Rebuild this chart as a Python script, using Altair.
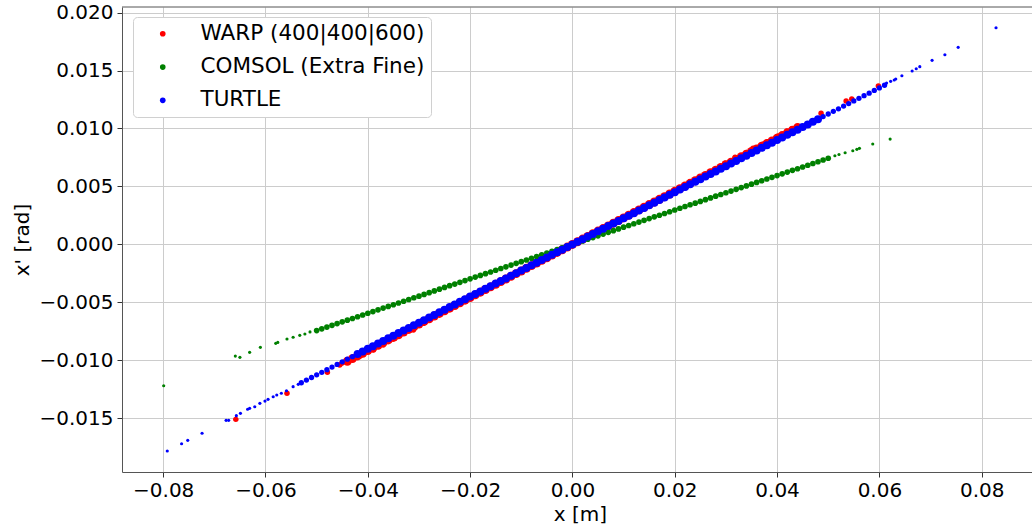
import altair as alt
import pandas as pd

SERIES = ["WARP (400|400|600)", "COMSOL (Extra Fine)", "TURTLE"]
COLORS = ["#ff0000", "#008000", "#0000ff"]
X_TICKS = [-0.08, -0.06, -0.04, -0.02, 0.0, 0.02, 0.04, 0.06, 0.08]
Y_TICKS = [-0.015, -0.010, -0.005, 0.0, 0.005, 0.010, 0.015, 0.020]

# ---- WARP (red): dense band + scattered edge points -------------------------
warp_band = [
    (-0.044, -0.01008), (-0.043, -0.00985), (-0.042, -0.00962), (-0.041, -0.00939),
    (-0.040, -0.00916), (-0.039, -0.00893), (-0.038, -0.00870), (-0.037, -0.00847),
    (-0.036, -0.00824), (-0.035, -0.00802), (-0.034, -0.00779), (-0.033, -0.00756),
    (-0.032, -0.00733), (-0.031, -0.00710), (-0.030, -0.00687), (-0.029, -0.00664),
    (-0.028, -0.00641), (-0.027, -0.00618), (-0.026, -0.00595), (-0.025, -0.00573),
    (-0.024, -0.00550), (-0.023, -0.00527), (-0.022, -0.00504), (-0.021, -0.00481),
    (-0.020, -0.00458), (-0.019, -0.00435), (-0.018, -0.00412), (-0.017, -0.00389),
    (-0.016, -0.00366), (-0.015, -0.00344), (-0.014, -0.00321), (-0.013, -0.00298),
    (-0.012, -0.00275), (-0.011, -0.00252), (-0.010, -0.00229), (-0.009, -0.00206),
    (-0.008, -0.00183), (-0.007, -0.00160), (-0.006, -0.00137), (-0.005, -0.00115),
    (-0.004, -0.00092), (-0.003, -0.00069), (-0.002, -0.00046), (-0.001, -0.00023),
    (0.000, 0.00000), (0.001, 0.00023), (0.002, 0.00046), (0.003, 0.00069),
    (0.004, 0.00092), (0.005, 0.00115), (0.006, 0.00137), (0.007, 0.00160),
    (0.008, 0.00183), (0.009, 0.00206), (0.010, 0.00229), (0.011, 0.00252),
    (0.012, 0.00275), (0.013, 0.00298), (0.014, 0.00321), (0.015, 0.00344),
    (0.016, 0.00366), (0.017, 0.00389), (0.018, 0.00412), (0.019, 0.00435),
    (0.020, 0.00458), (0.021, 0.00481), (0.022, 0.00504), (0.023, 0.00527),
    (0.024, 0.00550), (0.025, 0.00573), (0.026, 0.00595), (0.027, 0.00618),
    (0.028, 0.00641), (0.029, 0.00664), (0.030, 0.00687), (0.031, 0.00710),
    (0.032, 0.00733), (0.033, 0.00756), (0.034, 0.00779), (0.035, 0.00802),
    (0.036, 0.00824), (0.037, 0.00847), (0.038, 0.00870), (0.039, 0.00893),
    (0.040, 0.00916), (0.041, 0.00939), (0.042, 0.00962), (0.043, 0.00985),
    (0.044, 0.01008),
]
warp_tail = [
    (0.0598, 0.01366), (0.0546, 0.01254), (0.0535, 0.01237), (0.0486, 0.01131),
    (0.0429, 0.00995), (0.0419, 0.00978), (0.0402, 0.00935), (0.0383, 0.00886),
    (0.0373, 0.00866), (0.0353, 0.00829), (0.0341, 0.00794), (0.0318, 0.00751),
    (0.0298, 0.00700),
    (-0.0658, -0.01509), (-0.0558, -0.01284), (-0.0479, -0.01103), (-0.0455, -0.01040),
    (-0.0451, -0.01026), (-0.0415, -0.00963), (-0.0393, -0.00905), (-0.0389, -0.00911),
    (-0.0376, -0.00853), (-0.0370, -0.00868), (-0.0357, -0.00825), (-0.0347, -0.00810),
    (-0.0311, -0.00738), (-0.0292, -0.00681),
]

# ---- COMSOL (green) ---------------------------------------------------------
comsol_band = [
    (-0.050, -0.00743), (-0.049, -0.00728), (-0.048, -0.00713), (-0.047, -0.00698),
    (-0.046, -0.00683), (-0.045, -0.00668), (-0.044, -0.00653), (-0.043, -0.00639),
    (-0.042, -0.00624), (-0.041, -0.00609), (-0.040, -0.00594), (-0.039, -0.00579),
    (-0.038, -0.00564), (-0.037, -0.00549), (-0.036, -0.00535), (-0.035, -0.00520),
    (-0.034, -0.00505), (-0.033, -0.00490), (-0.032, -0.00475), (-0.031, -0.00460),
    (-0.030, -0.00446), (-0.029, -0.00431), (-0.028, -0.00416), (-0.027, -0.00401),
    (-0.026, -0.00386), (-0.025, -0.00371), (-0.024, -0.00356), (-0.023, -0.00342),
    (-0.022, -0.00327), (-0.021, -0.00312), (-0.020, -0.00297), (-0.019, -0.00282),
    (-0.018, -0.00267), (-0.017, -0.00252), (-0.016, -0.00238), (-0.015, -0.00223),
    (-0.014, -0.00208), (-0.013, -0.00193), (-0.012, -0.00178), (-0.011, -0.00163),
    (-0.010, -0.00149), (-0.009, -0.00134), (-0.008, -0.00119), (-0.007, -0.00104),
    (-0.006, -0.00089), (-0.005, -0.00074), (-0.004, -0.00059), (-0.003, -0.00045),
    (-0.002, -0.00030), (-0.001, -0.00015), (0.000, 0.00000), (0.001, 0.00015),
    (0.002, 0.00030), (0.003, 0.00045), (0.004, 0.00059), (0.005, 0.00074),
    (0.006, 0.00089), (0.007, 0.00104), (0.008, 0.00119), (0.009, 0.00134),
    (0.010, 0.00149), (0.011, 0.00163), (0.012, 0.00178), (0.013, 0.00193),
    (0.014, 0.00208), (0.015, 0.00223), (0.016, 0.00238), (0.017, 0.00252),
    (0.018, 0.00267), (0.019, 0.00282), (0.020, 0.00297), (0.021, 0.00312),
    (0.022, 0.00327), (0.023, 0.00342), (0.024, 0.00356), (0.025, 0.00371),
    (0.026, 0.00386), (0.027, 0.00401), (0.028, 0.00416), (0.029, 0.00431),
    (0.030, 0.00446), (0.031, 0.00460), (0.032, 0.00475), (0.033, 0.00490),
    (0.034, 0.00505), (0.035, 0.00520), (0.036, 0.00535), (0.037, 0.00549),
    (0.038, 0.00564), (0.039, 0.00579), (0.040, 0.00594), (0.041, 0.00609),
    (0.042, 0.00624), (0.043, 0.00639), (0.044, 0.00653), (0.045, 0.00668),
    (0.046, 0.00683), (0.047, 0.00698), (0.048, 0.00713), (0.049, 0.00728),
    (0.050, 0.00743),
]
comsol_tail = [
    (-0.0799, -0.01219), (-0.0659, -0.00963), (-0.0650, -0.00974), (-0.0631, -0.00931),
    (-0.0610, -0.00888), (-0.0580, -0.00853), (-0.0576, -0.00845), (-0.0558, -0.00816),
    (-0.0546, -0.00801), (-0.0533, -0.00784), (-0.0523, -0.00773), (-0.0513, -0.00755),
    (0.0513, 0.00765), (0.0521, 0.00776), (0.0533, 0.00791), (0.0548, 0.00808),
    (0.0556, 0.00820), (0.0561, 0.00829), (0.0587, 0.00866), (0.0621, 0.00909),
]

# ---- TURTLE (blue) ----------------------------------------------------------
turtle_band = [
    (-0.042, -0.00945), (-0.041, -0.00923), (-0.040, -0.00900), (-0.039, -0.00878),
    (-0.038, -0.00855), (-0.037, -0.00833), (-0.036, -0.00810), (-0.035, -0.00788),
    (-0.034, -0.00765), (-0.033, -0.00743), (-0.032, -0.00720), (-0.031, -0.00698),
    (-0.030, -0.00675), (-0.029, -0.00653), (-0.028, -0.00630), (-0.027, -0.00608),
    (-0.026, -0.00585), (-0.025, -0.00563), (-0.024, -0.00540), (-0.023, -0.00518),
    (-0.022, -0.00495), (-0.021, -0.00473), (-0.020, -0.00450), (-0.019, -0.00428),
    (-0.018, -0.00405), (-0.017, -0.00383), (-0.016, -0.00360), (-0.015, -0.00338),
    (-0.014, -0.00315), (-0.013, -0.00293), (-0.012, -0.00270), (-0.011, -0.00248),
    (-0.010, -0.00225), (-0.009, -0.00203), (-0.008, -0.00180), (-0.007, -0.00158),
    (-0.006, -0.00135), (-0.005, -0.00113), (-0.004, -0.00090), (-0.003, -0.00068),
    (-0.002, -0.00045), (-0.001, -0.00023), (0.000, 0.00000), (0.001, 0.00023),
    (0.002, 0.00045), (0.003, 0.00068), (0.004, 0.00090), (0.005, 0.00113),
    (0.006, 0.00135), (0.007, 0.00158), (0.008, 0.00180), (0.009, 0.00203),
    (0.010, 0.00225), (0.011, 0.00248), (0.012, 0.00270), (0.013, 0.00293),
    (0.014, 0.00315), (0.015, 0.00338), (0.016, 0.00360), (0.017, 0.00383),
    (0.018, 0.00405), (0.019, 0.00428), (0.020, 0.00450), (0.021, 0.00473),
    (0.022, 0.00495), (0.023, 0.00518), (0.024, 0.00540), (0.025, 0.00563),
    (0.026, 0.00585), (0.027, 0.00608), (0.028, 0.00630), (0.029, 0.00653),
    (0.030, 0.00675), (0.031, 0.00698), (0.032, 0.00720), (0.033, 0.00743),
    (0.034, 0.00765), (0.035, 0.00788), (0.036, 0.00810), (0.037, 0.00833),
    (0.038, 0.00855), (0.039, 0.00878), (0.040, 0.00900), (0.041, 0.00923),
    (0.042, 0.00945), (0.043, 0.00968), (0.044, 0.00990), (0.045, 0.01013),
    (0.046, 0.01035), (0.047, 0.01058), (0.048, 0.01080),
]
turtle_edge = [
    (-0.053, -0.01193), (-0.052, -0.01170), (-0.051, -0.01148), (-0.050, -0.01125),
    (-0.049, -0.01103), (-0.048, -0.01080), (-0.047, -0.01058), (-0.046, -0.01035),
    (-0.045, -0.01013), (-0.044, -0.00990), (-0.043, -0.00968),
    (0.049, 0.01103), (0.050, 0.01125), (0.051, 0.01148), (0.052, 0.01170),
    (0.053, 0.01193), (0.054, 0.01215), (0.055, 0.01238), (0.056, 0.01260),
    (0.057, 0.01283), (0.058, 0.01305), (0.059, 0.01328), (0.060, 0.01350),
    (0.061, 0.01373),
]
turtle_tail = [
    (-0.0792, -0.01782), (-0.0764, -0.01719), (-0.0752, -0.01690), (-0.0724, -0.01629),
    (-0.0677, -0.01517), (-0.0672, -0.01517), (-0.0657, -0.01477), (-0.0649, -0.01457),
    (-0.0635, -0.01422), (-0.0631, -0.01414), (-0.0621, -0.01400), (-0.0611, -0.01371),
    (-0.0601, -0.01351), (-0.0595, -0.01336), (-0.0585, -0.01314), (-0.0578, -0.01299),
    (-0.0569, -0.01284), (-0.0559, -0.01262), (-0.0546, -0.01227), (-0.0536, -0.01207),
    (0.0614, 0.01392), (0.0622, 0.01407), (0.0629, 0.01418), (0.0632, 0.01427),
    (0.0644, 0.01455), (0.0664, 0.01496), (0.0672, 0.01515), (0.0679, 0.01533),
    (0.0703, 0.01588), (0.0728, 0.01636), (0.0754, 0.01700), (0.0828, 0.01869),
]

FONT = "DejaVu Sans"
W, H = 910, 465

x_scale = alt.Scale(domain=[-0.08805, 0.08983], nice=False, zero=False)
y_scale = alt.Scale(domain=[-0.01963, 0.02048], nice=False, zero=False)

x_axis = alt.Axis(
    values=X_TICKS, format=".2f", title="x [m]", labelFont=FONT, titleFont=FONT,
    labelFontSize=20, titleFontSize=20, titleFontWeight="normal",
    labelColor="black", titleColor="black", tickColor="#333333", tickSize=5,
    domainColor="#555555", gridColor="#cccccc", gridWidth=1, labelPadding=3,
    labelFlush=False, labelOverlap=False, titleX=458, titleY=42,
    titleBaseline="middle", titleAlign="center",
)
y_axis = alt.Axis(
    values=Y_TICKS, format=".3f", title="x' [rad]", labelFont=FONT, titleFont=FONT,
    labelFontSize=20, titleFontSize=20, titleFontWeight="normal",
    labelColor="black", titleColor="black", tickColor="#333333", tickSize=5,
    domainColor="#555555", gridColor="#cccccc", gridWidth=1, labelPadding=4,
    labelFlush=False, labelOverlap=False, titleAngle=270, titleX=-100,
    titleY=H / 2, titleBaseline="middle", titleAlign="center",
)
legend = alt.Legend(
    title=None, orient="none", legendX=11, legendY=10, padding=6,
    strokeColor="#d0d0d0", cornerRadius=4, fillColor="#ffffff",
    labelFont=FONT, labelFontSize=21.5, labelColor="black", labelLimit=400,
    symbolType="circle", symbolSize=32, symbolStrokeWidth=0,
    rowPadding=10.3, symbolOffset=13, labelOffset=27,
)
color = alt.Color(
    "series:N", scale=alt.Scale(domain=SERIES, range=COLORS), legend=legend
)


def layer(points, series, size):
    df = pd.DataFrame(points, columns=["x", "y"])
    df["series"] = series
    return alt.Chart(df).mark_circle(size=size, opacity=1).encode(
        x=alt.X("x:Q", scale=x_scale, axis=x_axis),
        y=alt.Y("y:Q", scale=y_scale, axis=y_axis),
        color=color,
    )


top_line = alt.Chart(pd.DataFrame({"k": [0]})).mark_rule(
    color="#555555", strokeWidth=1
).encode(x=alt.value(0), x2=alt.value(W), y=alt.value(0))

chart = alt.layer(
    layer(warp_band, SERIES[0], 80),
    layer(warp_tail, SERIES[0], 30),
    layer(comsol_band, SERIES[1], 32),
    layer(comsol_tail, SERIES[1], 10),
    layer(turtle_band, SERIES[2], 64),
    layer(turtle_edge, SERIES[2], 28),
    layer(turtle_tail, SERIES[2], 10),
    top_line,
).properties(
    width=W, height=H,
    autosize=alt.AutoSizeParams(type="none"),
    padding={"left": 122, "top": 7, "right": 0, "bottom": 55},
).configure_view(stroke=None)

chart.save("out.html", embed_options={"renderer": "svg", "actions": False})
